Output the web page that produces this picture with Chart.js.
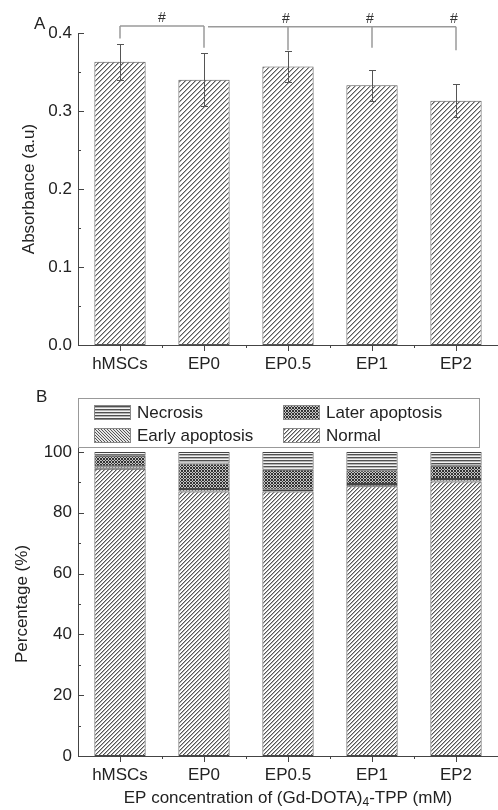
<!DOCTYPE html>
<html>
<head>
<meta charset="utf-8">
<script src="https://cdn.jsdelivr.net/npm/chart.js@4.4.0/dist/chart.umd.min.js"></script>
<style>
  html, body { margin: 0; padding: 0; background: #fff; }
  .box { position: absolute; left: 0; width: 498px; }
  #boxA { top: 0; height: 385px; }
  #boxB { top: 385px; height: 425px; }
</style>
</head>
<body>
<div class="box" id="boxA"><canvas id="chartA"></canvas></div>
<div class="box" id="boxB"><canvas id="chartB"></canvas></div>
<script>
var categories = ['hMSCs', 'EP0', 'EP0.5', 'EP1', 'EP2']

// panel A: absorbance with error
var absorbance = [0.363, 0.340, 0.357, 0.333, 0.313]
var absError = [0.023, 0.034, 0.020, 0.020, 0.021]
var absTicks = [0, 0.1, 0.2, 0.3, 0.4]

// significance brackets (category indices, bracket level, where each leg stops)
var sigMarks = [
    { cats: [0, 1], level: 0.409, drops: [0.393, 0.381], labels: ['mid'] },
    { cats: [1, 2, 3, 4], level: 0.408, drops: [null, 0.378, 0.381, 0.378], labels: [2, 3, 4] }
]

// panel B: percentages (stacked)
var normal = [94.5, 87.0, 87.0, 88.7, 90.3]
var early = [0.8, 0.8, 0.6, 0.8, 0.8]
var later = [3.5, 8.4, 6.6, 4.5, 4.4]
var necrosis = [1.2, 3.8, 5.8, 6.0, 4.5]
var pctTicks = [0, 20, 40, 60, 80, 100]

var FONT = "'Liberation Sans', Arial, sans-serif"
var FS = 17
var TEXT = '#222'
var AXIS = '#444'

Chart.defaults.font.family = FONT
Chart.defaults.color = TEXT

function makePattern(size, paint) {
    var c = document.createElement('canvas')
    c.width = size; c.height = size
    var g = c.getContext('2d')
    for (var px = 0; px < size; px++) {
        for (var py = 0; py < size; py++) {
            g.fillStyle = paint(px, py)
            g.fillRect(px, py, 1, 1)
        }
    }
    return g.createPattern(c, 'repeat')
}

var hatchA = makePattern(10, function(x, y){
    var k = (x + y) % 5
    return k == 0 ? '#5a5a5a' : (k == 1 ? '#b0b0b0' : '#fff')
})
var patNormal = makePattern(12, function(x, y){
    var k = (x + y) % 4
    return k == 0 ? '#555' : (k == 1 ? '#b0b0b0' : '#fff')
})
var patEarly = makePattern(12, function(x, y){
    var k = (x - y + 12) % 3
    return k == 0 ? '#555' : '#e6e6e6'
})
var patLater = makePattern(12, function(x, y){
    var a = (x + y) % 3 == 0, b = (x - y + 12) % 3 == 0
    return (a || b) ? '#333' : '#c4c4c4'
})
var patNecrosis = makePattern(12, function(x, y){
    var k = y % 3
    return k == 0 ? '#505050' : (k == 1 ? '#b4b4b4' : '#f4f4f4')
})

function drawTicks(chart, minorStep, overshoot) {
    var ctx = chart.ctx, xs = chart.scales.x, ys = chart.scales.y, a = chart.chartArea
    ctx.save()
    ctx.strokeStyle = AXIS
    ctx.lineWidth = 1
    ctx.beginPath()
    if (overshoot) {
        ctx.moveTo(a.left + 0.5, a.top)
        ctx.lineTo(a.left + 0.5, a.top - overshoot)
    }
    // y: inward ticks
    for (var v = ys.min; v <= ys.max + 1e-9; v += minorStep) {
        var py = Math.round(ys.getPixelForValue(v)) + 0.5
        var major = Math.abs(Math.round(v / (minorStep * 2)) * minorStep * 2 - v) < 1e-9
        ctx.moveTo(a.left, py)
        ctx.lineTo(a.left + (major ? 6 : 3), py)
    }
    // x: outward ticks
    for (var i = 0; i < categories.length; i++) {
        var px = Math.round(xs.getPixelForValue(i)) + 0.5
        ctx.moveTo(px, a.bottom)
        ctx.lineTo(px, a.bottom + 6)
        if (i < categories.length - 1) {
            var pb = Math.round(xs.getPixelForValue(i + 0.5)) + 0.5
            ctx.moveTo(pb, a.bottom)
            ctx.lineTo(pb, a.bottom + 3)
        }
    }
    ctx.stroke()
    ctx.restore()
}

var panelA = {
    id: 'panelA',
    afterDatasetsDraw: function(chart) {
        var ctx = chart.ctx, xs = chart.scales.x, ys = chart.scales.y
        drawTicks(chart, 0.05, 0)
        ctx.save()
        // error bars
        ctx.strokeStyle = '#555'
        ctx.lineWidth = 1
        ctx.beginPath()
        for (var i = 0; i < absorbance.length; i++) {
            var px = Math.round(xs.getPixelForValue(i)) + 0.5
            var t = Math.round(ys.getPixelForValue(absorbance[i] + absError[i])) + 0.5
            var b = Math.round(ys.getPixelForValue(absorbance[i] - absError[i])) + 0.5
            ctx.moveTo(px, t); ctx.lineTo(px, b)
            ctx.moveTo(px - 3.5, t); ctx.lineTo(px + 3.5, t)
            ctx.moveTo(px - 3.5, b); ctx.lineTo(px + 3.5, b)
        }
        ctx.stroke()
        // brackets
        ctx.strokeStyle = '#9a9a9a'
        ctx.lineWidth = 1.5
        ctx.fillStyle = '#333'
        ctx.font = '14px ' + FONT
        ctx.textAlign = 'center'
        ctx.textBaseline = 'middle'
        sigMarks.forEach(function(m, k){
            var ly = ys.getPixelForValue(m.level)
            var x0 = xs.getPixelForValue(m.cats[0]) + (k > 0 ? 4 : 0)
            var x1 = xs.getPixelForValue(m.cats[m.cats.length - 1])
            ctx.beginPath()
            ctx.moveTo(x0, ly); ctx.lineTo(x1, ly)
            m.cats.forEach(function(c, j){
                if (m.drops[j] == null) return
                var px = xs.getPixelForValue(c)
                ctx.moveTo(px, ly); ctx.lineTo(px, ys.getPixelForValue(m.drops[j]))
            })
            ctx.stroke()
            m.labels.forEach(function(l){
                var lx = l === 'mid' ? (xs.getPixelForValue(m.cats[0]) + x1) / 2 : xs.getPixelForValue(l) - 2
                ctx.fillText('#', lx, ly - 8)
            })
        })
        ctx.fillStyle = TEXT
        ctx.font = FS + 'px ' + FONT
        ctx.textAlign = 'left'
        ctx.fillText('A', 34, 24)
        ctx.restore()
    }
}

var legendItems = [
    { label: 'Necrosis', fill: patNecrosis },
    { label: 'Later apoptosis', fill: patLater },
    { label: 'Early apoptosis', fill: patEarly },
    { label: 'Normal', fill: patNormal }
]

var panelB = {
    id: 'panelB',
    afterDatasetsDraw: function(chart) {
        var ctx = chart.ctx, a = chart.chartArea
        drawTicks(chart, 10, 7)
        ctx.save()
        // legend box
        var bl = a.left + 0.5, bt = 13.5, br = a.right - 18.5, bb = 62.5
        ctx.strokeStyle = '#999'
        ctx.lineWidth = 1
        ctx.strokeRect(bl, bt, br - bl, bb - bt)
        ctx.font = FS + 'px ' + FONT
        ctx.textBaseline = 'middle'
        ctx.textAlign = 'left'
        legendItems.forEach(function(it, i){
            var col = i % 2, row = Math.floor(i / 2)
            var sx = a.left + (col == 0 ? 16 : 205)
            var cy = row == 0 ? 28 : 51
            ctx.fillStyle = it.fill
            ctx.fillRect(sx, cy - 8, 37, 15)
            ctx.strokeStyle = '#888'
            ctx.strokeRect(sx + 0.5, cy - 7.5, 36, 14)
            ctx.fillStyle = TEXT
            ctx.fillText(it.label, sx + 43, cy)
        })
        // x title with subscript
        var parts = [['EP concentration of (Gd-DOTA)', FS, 0], ['4', 12, 5], ['-TPP (mM)', FS, 0]]
        var w = 0
        parts.forEach(function(p){ ctx.font = p[1] + 'px ' + FONT; w += ctx.measureText(p[0]).width })
        var tx = (a.left + a.right) / 2 - w / 2, ty = 413
        parts.forEach(function(p){
            ctx.font = p[1] + 'px ' + FONT
            ctx.fillText(p[0], tx, ty + p[2])
            tx += ctx.measureText(p[0]).width
        })
        ctx.font = FS + 'px ' + FONT
        ctx.fillText('B', 36, 12)
        ctx.restore()
    }
}

function axisX(h) {
    return {
        grid: { display: false, drawTicks: false },
        border: { color: AXIS, width: 1 },
        ticks: { padding: 9, color: TEXT, font: { size: FS } },
        afterFit: function(s){ s.height = h }
    }
}

function axisY(min, max, step, title, titlePad, fmt) {
    return {
        min: min, max: max,
        grid: { display: false, drawTicks: false },
        border: { color: AXIS, width: 1 },
        ticks: { stepSize: step, padding: 6, color: TEXT, font: { size: FS }, callback: fmt },
        title: { display: true, text: title, color: TEXT, font: { size: FS }, padding: { top: titlePad, bottom: 0 } },
        afterFit: function(s){ s.width = 78 }
    }
}

new Chart(document.getElementById('chartA'), {
    type: 'bar',
    data: {
        labels: categories,
        datasets: [{
            data: absorbance,
            backgroundColor: hatchA,
            borderColor: '#555',
            borderWidth: 1,
            borderSkipped: false,
            barPercentage: 0.61,
            categoryPercentage: 1
        }]
    },
    options: {
        responsive: true,
        maintainAspectRatio: false,
        animation: false,
        layout: { padding: { top: 33, right: 0, left: 0, bottom: 0 } },
        plugins: { legend: { display: false }, tooltip: { enabled: false } },
        scales: {
            x: axisX(40),
            y: axisY(absTicks[0], absTicks[absTicks.length - 1], 0.1, 'Absorbance (a.u)', 19,
                function(v){ return Number(v).toFixed(1) })
        }
    },
    plugins: [panelA]
})

function stackSet(label, values, fill) {
    return {
        label: label,
        data: values,
        backgroundColor: fill,
        borderColor: '#444',
        borderWidth: 1,
        borderSkipped: false,
        barPercentage: 0.61,
        categoryPercentage: 1
    }
}

new Chart(document.getElementById('chartB'), {
    type: 'bar',
    data: {
        labels: categories,
        datasets: [
            stackSet('Normal', normal, patNormal),
            stackSet('Early apoptosis', early, patEarly),
            stackSet('Later apoptosis', later, patLater),
            stackSet('Necrosis', necrosis, patNecrosis)
        ]
    },
    options: {
        responsive: true,
        maintainAspectRatio: false,
        animation: false,
        layout: { padding: { top: 67, right: 0, left: 0, bottom: 0 } },
        plugins: { legend: { display: false }, tooltip: { enabled: false } },
        scales: {
            x: Object.assign(axisX(54), { stacked: true }),
            y: Object.assign(axisY(pctTicks[0], pctTicks[pctTicks.length - 1], 20, 'Percentage (%)', 12,
                function(v){ return v }), { stacked: true })
        }
    },
    plugins: [panelB]
})
</script>
</body>
</html>
